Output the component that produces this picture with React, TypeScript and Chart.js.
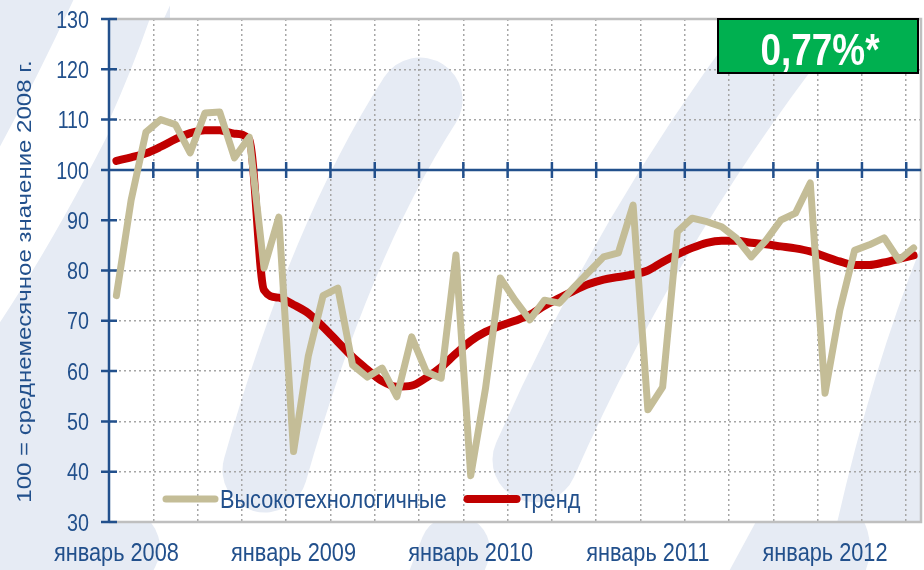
import React, { useEffect, useRef } from 'react';
import { Chart, registerables } from 'chart.js';
Chart.register(...registerables);

const monthNames = ['январь', 'февраль', 'март', 'апрель', 'май', 'июнь', 'июль', 'август', 'сентябрь', 'октябрь', 'ноябрь', 'декабрь'];
const years = [2008, 2009, 2010, 2011, 2012];
const monthCount = 55; // январь 2008 – июль 2012
const categories: string[] = [];
for (const y of years) for (const m of monthNames) if (categories.length < monthCount) categories.push(`${m} ${y}`);

const hightech = [75, 94, 107.5, 110, 109, 103.4, 111.3, 111.5, 102.4, 106.5, 80.5, 90.6, 44, 63, 75, 76.5, 61.2, 58.8, 60.6, 54.9, 66.8, 59.8, 58.6, 83.1, 39.2, 56.5, 78.5, 74.1, 70.2, 74.1, 73.5, 76.7, 79.7, 82.7, 83.5, 93, 52.3, 56.8, 87.7, 90.4, 89.7, 88.7, 86.4, 82.7, 86, 90, 91.4, 97.4, 55.6, 72.1, 84, 85.1, 86.5, 82.1, 84.5];
const trend = [101.8, 102.5, 103.3, 104.6, 106.1, 107.3, 107.9, 107.9, 107.2, 106, 76.1, 74.6, 73.2, 71.5, 68.8, 65.8, 62.8, 60.3, 58, 56.9, 57.1, 58.7, 60.8, 63.5, 66, 67.8, 69, 70, 71.2, 73, 74.5, 76, 77.3, 78.2, 78.7, 79.2, 80, 81.7, 83.2, 84.5, 85.5, 85.9, 85.9, 85.5, 85.2, 84.8, 84.4, 83.8, 82.8, 81.8, 81.1, 81.1, 81.6, 82.3, 83];
const seriesNames = ['Высокотехнологичные', 'тренд'];
const yTitle = '100 = среднемесячное значение 2008 г.';
const badgeText = '0,77%*';
const baseline = 100;

const FONT = '"Liberation Sans", Arial, sans-serif';
const SX = 0.82; // horizontal squeeze of the original picture
const BLUE = '#22508C';
const TAN = '#C4BD97';
const RED = '#C00000';
const LAV = '#E6EBF4';

function squeezedText(ctx: any, text: string, x: number, y: number, font: string, align: CanvasTextAlign, color: string) {
  ctx.save();
  ctx.translate(x, y);
  ctx.scale(SX, 1);
  ctx.font = font;
  ctx.textAlign = align;
  ctx.textBaseline = 'alphabetic';
  ctx.fillStyle = color;
  ctx.fillText(text, 0, 0);
  const w = ctx.measureText(text).width * SX;
  ctx.restore();
  return w;
}

const bgPlugin = {
  id: 'bg',
  beforeDraw(chart: any) {
    const { ctx, width, height, chartArea: a } = chart;
    ctx.save();
    ctx.fillStyle = '#FFFFFF';
    ctx.fillRect(0, 0, width, height);
    const stroke = (pts: number[][], w: number, color: string) => {
      ctx.beginPath();
      ctx.moveTo(pts[0][0], pts[0][1]);
      if (pts.length === 3) ctx.quadraticCurveTo(pts[1][0], pts[1][1], pts[2][0], pts[2][1]);
      else for (let i = 1; i < pts.length; i++) ctx.lineTo(pts[i][0], pts[i][1]);
      ctx.lineWidth = w;
      ctx.lineCap = 'round';
      ctx.strokeStyle = color;
      ctx.stroke();
    };
    ctx.fillStyle = LAV;
    ctx.fillRect(0, 0, a.left, height);
    ctx.fillRect(0, 0, 170, a.top);
    stroke([[150, -60], [40, 190], [-60, 330]], 90, '#FFFFFF');
    stroke([[120, 548], [70, 640]], 80, LAV);
    stroke([[455, 550], [420, 640]], 70, LAV);
    stroke([[810, 548], [760, 640]], 120, LAV);
    ctx.fillStyle = '#FFFFFF';
    ctx.fillRect(a.left, a.top, a.right - a.left, a.bottom - a.top);
    ctx.beginPath();
    ctx.rect(a.left, a.top, a.right - a.left, a.bottom - a.top);
    ctx.clip();
    stroke([[140, -40], [110, 60], [60, 160]], 55, LAV);
    stroke([[420, 100], [330, 240], [265, 470]], 85, LAV);
    stroke([[820, -10], [650, 200], [535, 460]], 85, LAV);
    stroke([[1010, 170], [930, 330], [880, 560]], 100, LAV);
    ctx.restore();
  },
};

const framePlugin = {
  id: 'frame',
  beforeDatasetsDraw(chart: any) {
    const { ctx, chartArea: a, scales } = chart;
    const x = scales.x, y = scales.y;
    ctx.save();
    ctx.strokeStyle = '#BFBFBF';
    ctx.lineWidth = 2.5;
    ctx.beginPath();
    ctx.moveTo(a.left, a.top); ctx.lineTo(a.right, a.top); ctx.lineTo(a.right, a.bottom); ctx.lineTo(a.left, a.bottom);
    ctx.stroke();
    ctx.strokeStyle = BLUE;
    ctx.lineWidth = 2.5;
    ctx.beginPath();
    ctx.moveTo(a.left, a.top); ctx.lineTo(a.left, a.bottom);
    for (const t of y.ticks) {
      const py = y.getPixelForValue(t.value);
      ctx.moveTo(a.left - 8, py); ctx.lineTo(a.left + 8, py);
    }
    const by = y.getPixelForValue(baseline);
    ctx.moveTo(a.left, by); ctx.lineTo(a.right, by);
    const half = (x.getPixelForValue(1) - x.getPixelForValue(0)) / 2;
    for (let i = 3; i < categories.length; i += 3) {
      const px = x.getPixelForValue(i) - half;
      ctx.moveTo(px, by - 8); ctx.lineTo(px, by + 8);
    }
    ctx.stroke();
    ctx.restore();

    for (const t of y.ticks) {
      const py = y.getPixelForValue(t.value);
      squeezedText(ctx, String(t.value), a.left - 20, py + 8.6, `24px ${FONT}`, 'right', BLUE);
    }
    categories.forEach((c, i) => {
      if (i % 12 !== 0) return;
      squeezedText(ctx, c, x.getPixelForValue(i), a.bottom + 39, `26.5px ${FONT}`, 'center', BLUE);
    });
    ctx.save();
    ctx.translate(25, (a.top + a.bottom) / 2 + 11);
    ctx.rotate(-Math.PI / 2);
    ctx.scale(1, 0.85);
    ctx.font = `24px ${FONT}`;
    ctx.textAlign = 'center';
    ctx.textBaseline = 'middle';
    ctx.fillStyle = BLUE;
    ctx.fillText(yTitle, 0, 0);
    ctx.restore();
  },
};

const overlayPlugin = {
  id: 'overlay',
  afterDraw(chart: any) {
    const { ctx, chartArea: a } = chart;
    ctx.save();
    const ly = a.bottom - 23;
    let lx = a.left + 53;
    chart.data.datasets.forEach((ds: any) => {
      ctx.beginPath();
      ctx.moveTo(lx + 4, ly); ctx.lineTo(lx + 53, ly);
      ctx.strokeStyle = ds.borderColor;
      ctx.lineWidth = ds.borderWidth;
      ctx.lineCap = 'round';
      ctx.stroke();
      const w = squeezedText(ctx, ds.label, lx + 58, ly + 9, `26.5px ${FONT}`, 'left', BLUE);
      lx += 58 + w + 17;
    });
    const bx = a.right - 203, bw = 200, bt = a.top, bh = 54;
    ctx.fillStyle = '#00B050';
    ctx.fillRect(bx, bt, bw, bh);
    ctx.strokeStyle = '#000000';
    ctx.lineWidth = 2;
    ctx.strokeRect(bx, bt, bw, bh);
    squeezedText(ctx, badgeText, bx + bw / 2 + 2, bt + 46, `bold 45px ${FONT}`, 'center', '#FFFFFF');
    ctx.restore();
  },
};

export default function App() {
  const ref = useRef<HTMLCanvasElement>(null);
  useEffect(() => {
    const chart = new Chart(ref.current!, {
      type: 'line',
      data: {
        labels: categories,
        datasets: [
          { label: seriesNames[0], data: hightech, borderColor: TAN, borderWidth: 7, pointRadius: 0, tension: 0, borderJoinStyle: 'round', borderCapStyle: 'round' },
          { label: seriesNames[1], data: trend, borderColor: RED, borderWidth: 8, pointRadius: 0, cubicInterpolationMode: 'monotone', borderJoinStyle: 'round', borderCapStyle: 'round' },
        ],
      },
      options: {
        animation: false,
        responsive: true,
        maintainAspectRatio: false,
        layout: { padding: { left: 0, right: 3, top: 19, bottom: 0 } },
        plugins: { legend: { display: false }, tooltip: { enabled: false } },
        scales: {
          x: {
            type: 'category',
            offset: true,
            afterFit: (s: any) => { s.height = 48; },
            grid: {
              offset: true,
              drawTicks: false,
              lineWidth: 1.5,
              color: (c: any) => (typeof c.index === 'number' && c.index > 0 && c.index % 3 === 0 ? '#A6A6A6' : 'rgba(0,0,0,0)'),
            },
            border: { display: false, dash: [2, 3] },
            ticks: { display: false, autoSkip: false },
          },
          y: {
            min: 30,
            max: 130,
            afterFit: (s: any) => { s.width = 109; },
            ticks: { display: false, stepSize: 10 },
            grid: { drawTicks: false, lineWidth: 1.5, color: '#A6A6A6' },
            border: { display: false, dash: [2, 3] },
          },
        },
      },
      plugins: [bgPlugin, framePlugin, overlayPlugin],
    });
    return () => chart.destroy();
  }, []);
  return (
    <div style={{ position: 'absolute', left: 0, top: 0, width: 924, height: 570 }}>
      <canvas ref={ref} />
    </div>
  );
}
